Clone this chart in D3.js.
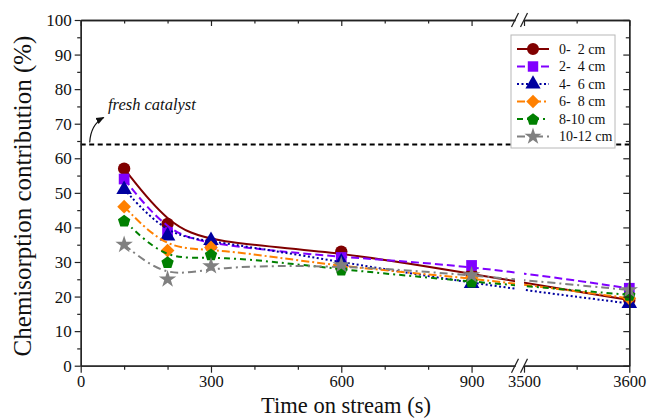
<!DOCTYPE html>
<html>
<head>
<meta charset="utf-8">
<script src="https://cdn.jsdelivr.net/npm/d3@7"></script>
<style>
  body { margin: 0; background: #fff; }
  svg { display: block; }
</style>
</head>
<body>
<div id="chart"></div>
<script>
// values
const times = [100, 200, 300, 600, 900, 3600];
const depth0_2 = [57, 41, 35.5, 33, 26.5, 19];
const depth2_4 = [54, 38.5, 35, 31.3, 29, 22.4];
const depth4_6 = [51, 37.5, 36.2, 30, 23.8, 18];
const depth6_8 = [46, 33.3, 34.2, 28.5, 25.5, 19.5];
const depth8_10 = [42, 30, 32.2, 27.8, 24.3, 20.5];
const depth10_12 = [35, 25, 28.8, 29.1, 26.2, 21.9];
const freshCatalyst = 64;

const seriesNames = ["0-  2 cm", "2-  4 cm", "4-  6 cm", "6-  8 cm", "8-10 cm", "10-12 cm"];
const yTicks = [0, 10, 20, 30, 40, 50, 60, 70, 80, 90, 100];
const xTicksLeft = [0, 300, 600, 900];
const xTicksRight = [3500, 3600];

const width = 651, height = 418;
const font = "'Liberation Serif', 'Times New Roman', serif";

const series = [
  {name: seriesNames[0], values: depth0_2, color: "#800000", dash: null, symbol: "circle"},
  {name: seriesNames[1], values: depth2_4, color: "#8000ff", dash: "8,4", symbol: "square"},
  {name: seriesNames[2], values: depth4_6, color: "#0000a0", dash: "2,2.5", symbol: "triangle"},
  {name: seriesNames[3], values: depth6_8, color: "#ff8000", dash: "8,3,2,3", symbol: "diamond"},
  {name: seriesNames[4], values: depth8_10, color: "#008000", dash: "6,4,2,4", symbol: "pentagon"},
  {name: seriesNames[5], values: depth10_12, color: "#808080", dash: "8,4,2,4", symbol: "star"}
];

// broken x axis: two linear pieces
const xLeft = d3.scaleLinear().domain([0, 1000]).range([80.7, 515]);
const xRight = d3.scaleLinear().domain([3500, 3600]).range([524, 629.3]);
const x = t => t <= 1000 ? xLeft(t) : xRight(t);
const y = d3.scaleLinear().domain([0, 100]).range([365.7, 20]);

const x0 = 80.7, x1 = 629.3, y0 = y(0), y1 = y(100);

function pentagonPath(r) {
  const pts = d3.range(5).map(i => {
    const a = -Math.PI / 2 + i * 2 * Math.PI / 5;
    return [r * Math.cos(a), r * Math.sin(a) + r * 0.1];
  });
  return "M" + pts.map(p => p.join(",")).join("L") + "Z";
}

function symbolPath(kind, scale = 1) {
  switch (kind) {
    case "circle": return d3.symbol(d3.symbolCircle, 120 * scale)();
    case "square": return d3.symbol(d3.symbolSquare, 115 * scale)();
    case "triangle": return d3.symbol(d3.symbolTriangle, 105 * scale)();
    case "diamond": return d3.symbol(d3.symbolSquare, 95 * scale)();
    case "pentagon": return pentagonPath(6.5 * Math.sqrt(scale));
    case "star": return d3.symbol(d3.symbolStar, 95 * scale)();
  }
}

const svg = d3.select("#chart").append("svg")
  .attr("width", width)
  .attr("height", height)
  .attr("font-family", font);

svg.append("defs").append("clipPath").attr("id", "plot-clip")
  .selectAll("rect")
  .data([[x0, xLeft(1000)], [xRight(3500), x1 + 8]])
  .join("rect")
    .attr("x", d => d[0])
    .attr("width", d => d[1] - d[0])
    .attr("y", y1)
    .attr("height", y0 - y1);

svg.select("defs").append("marker")
  .attr("id", "arrow")
  .attr("viewBox", "0 0 10 10")
  .attr("refX", 9).attr("refY", 5)
  .attr("markerWidth", 7).attr("markerHeight", 7)
  .attr("orient", "auto")
  .append("path")
    .attr("d", "M0,1L10,5L0,9Z")
    .attr("fill", "#111");

// fresh catalyst reference line
svg.append("line")
  .attr("x1", x0).attr("x2", x1)
  .attr("y1", y(freshCatalyst)).attr("y2", y(freshCatalyst))
  .attr("stroke", "#000")
  .attr("stroke-width", 2)
  .attr("stroke-dasharray", "5,3.5");

svg.append("path")
  .attr("d", `M${x0 + 9},${y(freshCatalyst) - 2}Q${x0 + 10},${y(freshCatalyst) - 20} ${x0 + 23},${y(freshCatalyst) - 27}`)
  .attr("fill", "none")
  .attr("stroke", "#111")
  .attr("stroke-width", 1.2)
  .attr("marker-end", "url(#arrow)");

svg.append("text")
  .attr("x", 108)
  .attr("y", 110)
  .attr("font-size", 16.5)
  .attr("font-style", "italic")
  .attr("fill", "#111")
  .text("fresh catalyst");

// series
const line = d3.line()
  .x(d => x(d[0]))
  .y(d => y(d[1]))
  .curve(d3.curveBasis);

const g = svg.append("g");
series.forEach(s => {
  const pts = times.map((t, i) => [t, s.values[i]]);
  g.append("path")
    .attr("d", line(pts))
    .attr("fill", "none")
    .attr("stroke", s.color)
    .attr("stroke-width", 2)
    .attr("stroke-dasharray", s.dash)
    .attr("clip-path", "url(#plot-clip)");
  g.append("g").selectAll("path")
    .data(pts)
    .join("path")
      .attr("transform", d => `translate(${x(d[0])},${y(d[1])})${s.symbol === "diamond" ? " rotate(45)" : ""}`)
      .attr("d", symbolPath(s.symbol))
      .attr("fill", s.color);
});

// axes
const axisColor = "#222";
function styleAxis(sel, labels = true, size = 17) {
  sel.selectAll(".domain").attr("stroke", axisColor).attr("stroke-width", 1.3);
  sel.selectAll(".tick line").attr("stroke", axisColor).attr("stroke-width", 1.2);
  sel.selectAll(".tick text").attr("font-size", size).attr("fill", "#111").attr("font-family", font);
  if (!labels) sel.selectAll(".tick text").remove();
}

const minorLeft = [100, 200, 400, 500, 700, 800];
const minorRight = [3550];
const yMinor = d3.range(5, 100, 10);

// bottom and top
[[xLeft, xTicksLeft, minorLeft], [xRight, xTicksRight, minorRight]].forEach(([sc, major, minor]) => {
  svg.append("g").attr("transform", `translate(0,${y0})`)
    .call(d3.axisBottom(sc).tickValues(major).tickSize(7).tickSizeOuter(0).tickPadding(3).tickFormat(d3.format("d")))
    .call(a => styleAxis(a, true, 16.5));
  svg.append("g").attr("transform", `translate(0,${y0})`)
    .call(d3.axisBottom(sc).tickValues(minor).tickSize(4).tickSizeOuter(0))
    .call(a => styleAxis(a, false));
  svg.append("g").attr("transform", `translate(0,${y1})`)
    .call(d3.axisTop(sc).tickValues(major).tickSize(-6).tickSizeOuter(0))
    .call(a => styleAxis(a, false));
  svg.append("g").attr("transform", `translate(0,${y1})`)
    .call(d3.axisTop(sc).tickValues(minor).tickSize(-3.5).tickSizeOuter(0))
    .call(a => styleAxis(a, false));
});

svg.append("g").attr("transform", `translate(${x0},0)`)
  .call(d3.axisLeft(y).tickValues(yTicks).tickSize(6).tickSizeOuter(0).tickPadding(3))
  .call(styleAxis);
svg.append("g").attr("transform", `translate(${x0},0)`)
  .call(d3.axisLeft(y).tickValues(yMinor).tickSize(3.5).tickSizeOuter(0))
  .call(a => styleAxis(a, false));
svg.append("g").attr("transform", `translate(${x1},0)`)
  .call(d3.axisRight(y).tickValues(yTicks).tickSize(-6).tickSizeOuter(0))
  .call(a => styleAxis(a, false));
svg.append("g").attr("transform", `translate(${x1},0)`)
  .call(d3.axisRight(y).tickValues(yMinor).tickSize(-3.5).tickSizeOuter(0))
  .call(a => styleAxis(a, false));

// break marks
[y0, y1].forEach(yy => {
  [xLeft(1000), xRight(3500)].forEach(xx => {
    svg.append("line")
      .attr("x1", xx - 3.5).attr("y1", yy + 7)
      .attr("x2", xx + 3.5).attr("y2", yy - 7)
      .attr("stroke", axisColor)
      .attr("stroke-width", 1.2);
  });
});

// axis titles
svg.append("text")
  .attr("transform", `translate(31,196) rotate(-90)`)
  .attr("text-anchor", "middle")
  .attr("font-size", 25)
  .attr("fill", "#111")
  .text("Chemisorption contribution (%)");

svg.append("text")
  .attr("x", 346)
  .attr("y", 413.3)
  .attr("text-anchor", "middle")
  .attr("font-size", 22.5)
  .attr("fill", "#111")
  .text("Time on stream (s)");

// legend
const legend = svg.append("g").attr("transform", "translate(511,35)");
legend.append("rect")
  .attr("width", 104)
  .attr("height", 113)
  .attr("fill", "#fff")
  .attr("stroke", "#b8b8b8")
  .attr("stroke-width", 1);

const item = legend.selectAll("g.item")
  .data(series)
  .join("g")
    .attr("class", "item")
    .attr("transform", (d, i) => `translate(0,${14 + i * 17.5})`);

item.append("line")
  .attr("x1", 6).attr("x2", 38)
  .attr("stroke", d => d.color)
  .attr("stroke-width", 2)
  .attr("stroke-dasharray", d => d.dash);

item.append("path")
  .attr("transform", d => `translate(22,0)${d.symbol === "diamond" ? " rotate(45)" : ""}`)
  .attr("d", d => symbolPath(d.symbol, 0.95))
  .attr("fill", d => d.color);

item.append("text")
  .attr("x", 48)
  .attr("dy", "0.35em")
  .attr("font-size", 14)
  .attr("fill", "#111")
  .style("white-space", "pre")
  .text(d => d.name);
</script>
</body>
</html>
